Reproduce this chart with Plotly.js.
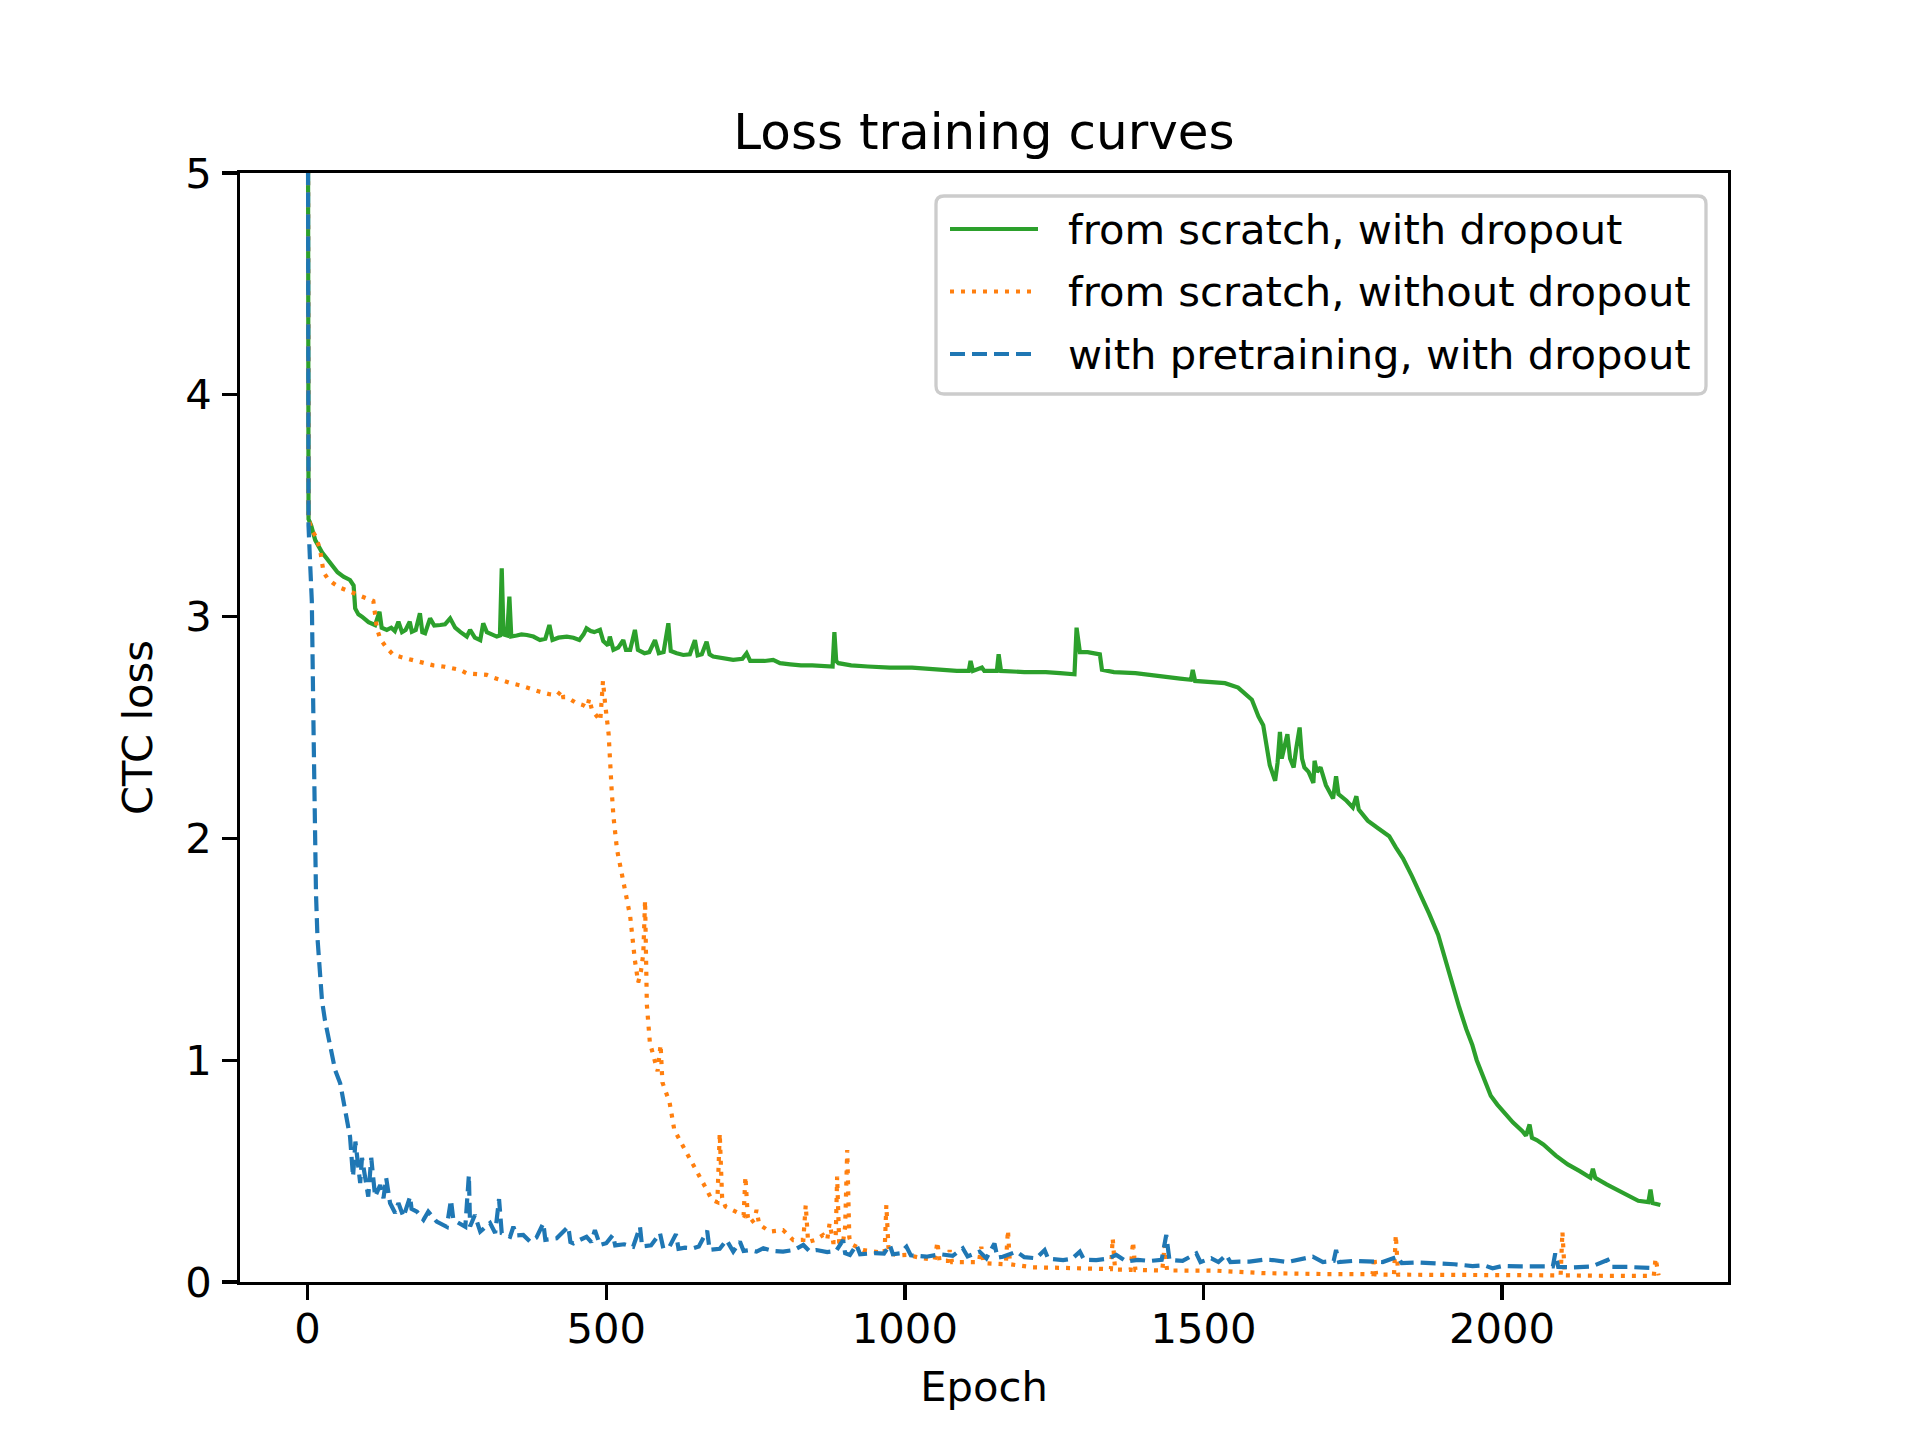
<!DOCTYPE html>
<html>
<head>
<meta charset="utf-8">
<script src="https://cdn.plot.ly/plotly-3.0.1.min.js"></script>
<style>
  body { margin: 0; background: #fff; }
</style>
</head>
<body>
<div id="chart" style="width:1920px;height:1440px;"></div>
<script>
// Series labels (legend order)
const seriesNames = [
  'from scratch, with dropout',
  'from scratch, without dropout',
  'with pretraining, with dropout'
]
const seriesColors = ['#2ca02c', '#ff7f0e', '#1f77b4']
const seriesDash = ['solid', '4px,7px', '15px,7px']

// from scratch, with dropout
const greenEpochs = [0, 1.5, 6, 12.7, 24, 37.8, 50, 60, 71, 77, 79.6, 85, 91, 102, 113, 120.3, 124, 132.6, 140, 146, 152, 158, 164, 171, 174.5, 181, 188, 192, 196.7, 205, 212, 222, 230, 238.6, 247, 256, 266.5, 272, 280, 289, 294, 300, 308, 316.7, 322, 325, 328, 334, 337.8, 341, 350, 358, 367, 378, 389, 398, 404.8, 410, 420, 434, 445, 455, 462, 467, 474, 480, 489.5, 495, 503, 506, 512, 520, 528.5, 533, 540, 548, 553, 564, 572, 581.6, 588, 596, 604, 608, 618, 629, 640, 648.5, 653, 660, 668, 673, 679, 695, 712.5, 728, 735, 741, 751, 765, 779.5, 791, 808, 826, 845, 863, 879, 882, 885, 889, 910, 938, 975, 1012, 1050, 1087, 1107, 1110, 1114, 1129, 1133, 1154, 1157, 1161, 1200, 1236, 1260, 1284, 1287.5, 1293, 1306, 1319, 1326.5, 1330, 1350, 1386, 1424, 1461, 1479, 1482, 1486, 1510, 1536, 1558, 1570, 1581, 1592, 1600, 1611, 1620, 1624, 1628, 1631, 1634, 1640.5, 1645, 1651, 1655, 1661, 1665, 1669, 1676, 1684, 1686, 1690, 1696, 1705, 1717, 1722, 1726, 1739.5, 1750, 1756, 1760, 1775, 1790, 1802, 1811, 1822, 1834, 1849, 1864, 1878, 1893, 1905, 1916.5, 1928, 1940, 1950, 1957.5, 1969, 1981, 1992, 2004, 2018, 2034, 2040, 2046, 2050, 2058, 2069, 2090, 2110, 2130, 2148, 2152, 2156, 2175, 2198.5, 2215, 2228, 2245, 2248.5, 2252, 2265]
const greenLoss = [6.5, 3.44, 3.41, 3.345, 3.29, 3.24, 3.2, 3.18, 3.165, 3.14, 3.037, 3.01, 3.0, 2.975, 2.962, 3.022, 2.95, 2.94, 2.95, 2.935, 2.977, 2.93, 2.94, 2.977, 2.932, 2.94, 3.015, 2.93, 2.925, 2.992, 2.96, 2.962, 2.965, 2.992, 2.95, 2.93, 2.91, 2.94, 2.905, 2.894, 2.97, 2.93, 2.92, 2.91, 2.915, 3.218, 2.92, 2.915, 3.09, 2.91, 2.915, 2.92, 2.917, 2.91, 2.894, 2.9, 2.962, 2.895, 2.905, 2.91, 2.905, 2.895, 2.92, 2.947, 2.935, 2.93, 2.94, 2.89, 2.87, 2.91, 2.85, 2.86, 2.894, 2.85, 2.85, 2.94, 2.85, 2.835, 2.84, 2.894, 2.835, 2.84, 2.97, 2.845, 2.835, 2.827, 2.83, 2.894, 2.825, 2.83, 2.887, 2.83, 2.82, 2.815, 2.805, 2.81, 2.835, 2.8, 2.8, 2.8, 2.805, 2.79, 2.785, 2.78, 2.78, 2.775, 2.775, 2.93, 2.8, 2.79, 2.78, 2.775, 2.77, 2.77, 2.76, 2.755, 2.755, 2.8, 2.755, 2.77, 2.755, 2.755, 2.83, 2.755, 2.75, 2.75, 2.745, 2.74, 2.95, 2.84, 2.84, 2.835, 2.83, 2.76, 2.75, 2.745, 2.73, 2.72, 2.715, 2.76, 2.71, 2.705, 2.7, 2.68, 2.65, 2.625, 2.55, 2.51, 2.33, 2.26, 2.34, 2.48, 2.36, 2.39, 2.47, 2.36, 2.32, 2.4, 2.5, 2.36, 2.32, 2.3, 2.25, 2.35, 2.3, 2.32, 2.24, 2.18, 2.28, 2.2, 2.17, 2.14, 2.19, 2.13, 2.08, 2.05, 2.03, 2.01, 1.96, 1.91, 1.83, 1.745, 1.66, 1.565, 1.45, 1.34, 1.24, 1.14, 1.07, 1.0, 0.92, 0.84, 0.8, 0.76, 0.72, 0.68, 0.66, 0.71, 0.65, 0.64, 0.62, 0.57, 0.53, 0.5, 0.47, 0.51, 0.47, 0.44, 0.405, 0.38, 0.366, 0.36, 0.417, 0.356, 0.347]

// from scratch, without dropout
const orangeEpochs = [0, 1.5, 7, 14, 21, 26.6, 34, 43, 55, 71, 88, 105, 110, 116, 121.5, 132, 143.7, 160, 177, 194, 210.6, 227, 244, 255, 266.5, 283, 300, 311, 322, 340, 355.7, 372, 389, 405, 418, 425.5, 428, 434, 450, 462, 468, 471.5, 476, 490, 494.5, 498, 504, 509, 512, 518, 526, 534.5, 540, 548, 553.5, 558, 562, 565, 568, 573, 580, 586, 591, 594, 606, 614, 626, 641, 655, 665.5, 677, 686, 690, 694, 699.5, 715, 730, 733, 737, 740.5, 748, 751.7, 756, 774, 796, 813, 830, 834, 838, 850, 863, 870, 874, 880, 884, 886.6, 890, 896, 900, 903.5, 907, 911, 930, 955, 966, 969, 973, 990, 1002.7, 1030.5, 1050, 1054.5, 1058, 1072, 1075, 1079, 1086, 1124, 1128, 1132, 1169, 1172.6, 1176, 1214.5, 1260, 1298, 1345, 1348, 1352, 1378, 1382, 1386, 1431, 1435, 1439, 1521, 1560, 1600, 1700, 1783, 1786, 1789, 1819, 1822, 1826, 1899, 2000, 2098, 2101, 2105, 2170, 2254, 2257, 2262]
const orangeLoss = [6.5, 3.44, 3.39, 3.36, 3.3, 3.2, 3.17, 3.15, 3.13, 3.112, 3.09, 3.075, 3.07, 2.947, 2.9, 2.86, 2.827, 2.815, 2.804, 2.79, 2.78, 2.775, 2.767, 2.76, 2.744, 2.74, 2.737, 2.725, 2.714, 2.7, 2.69, 2.675, 2.661, 2.65, 2.645, 2.668, 2.637, 2.637, 2.61, 2.6, 2.59, 2.63, 2.58, 2.53, 2.71, 2.61, 2.47, 2.22, 2.1, 1.95, 1.84, 1.71, 1.65, 1.45, 1.35, 1.4, 1.48, 1.72, 1.25, 1.08, 1.0, 0.95, 1.07, 0.9, 0.81, 0.685, 0.625, 0.55, 0.49, 0.43, 0.37, 0.36, 0.67, 0.38, 0.34, 0.32, 0.3, 0.475, 0.295, 0.265, 0.28, 0.325, 0.26, 0.227, 0.234, 0.189, 0.19, 0.347, 0.18, 0.19, 0.212, 0.19, 0.265, 0.18, 0.18, 0.475, 0.18, 0.17, 0.25, 0.595, 0.2, 0.17, 0.144, 0.135, 0.13, 0.347, 0.13, 0.12, 0.122, 0.107, 0.1, 0.182, 0.095, 0.095, 0.144, 0.09, 0.09, 0.09, 0.159, 0.085, 0.08, 0.234, 0.08, 0.066, 0.064, 0.062, 0.058, 0.197, 0.056, 0.055, 0.182, 0.054, 0.052, 0.167, 0.052, 0.051, 0.046, 0.04, 0.036, 0.035, 0.114, 0.034, 0.033, 0.212, 0.033, 0.032, 0.03, 0.03, 0.227, 0.03, 0.028, 0.028, 0.107, 0.03]

// with pretraining, with dropout
const blueEpochs = [0, 1.5, 4, 7, 10, 11.7, 14, 16.5, 20, 24, 29, 35, 40, 46, 54.5, 63, 71, 76, 80, 88, 91, 101.5, 106.5, 113, 121.5, 127, 131.5, 138, 146.5, 152, 160.5, 171.5, 174, 183, 194, 202, 216, 233, 240, 244, 255, 264, 270, 272, 280, 289, 305.5, 314, 320.5, 325, 339, 344.5, 350, 361, 372.5, 383, 394.7, 398, 417, 436.5, 440, 445, 456, 467, 475, 481, 489.5, 500, 511, 515, 530, 545, 556.5, 560, 575, 590, 595.5, 606, 616.7, 621, 632, 645.6, 655, 669, 673, 690, 701.5, 712.6, 723.8, 730, 740.5, 751.7, 763, 780, 796, 815, 830, 840, 852, 870, 885, 896.6, 900, 908, 919, 925, 950, 965, 974.7, 980, 991.5, 1002.7, 1010, 1036, 1060, 1080, 1097, 1105, 1125, 1136.5, 1150, 1155, 1164, 1187, 1200, 1220, 1234, 1240, 1265, 1280, 1293, 1300, 1320.5, 1340, 1354, 1371, 1390, 1410, 1430, 1437.7, 1443, 1465, 1488, 1495, 1513, 1525, 1538, 1545, 1560, 1577, 1600, 1616, 1640, 1660, 1683, 1700, 1718, 1722, 1727, 1750, 1783, 1800, 1825, 1832, 1860, 1895, 1920, 1950.6, 1970, 1984, 2000, 2030, 2061.7, 2085, 2089, 2094, 2118, 2150, 2176.5, 2182, 2210, 2235, 2257]
const blueLoss = [6.5, 3.41, 3.25, 3.07, 2.47, 2.02, 1.75, 1.55, 1.4, 1.27, 1.18, 1.106, 1.03, 0.956, 0.896, 0.76, 0.655, 0.475, 0.633, 0.446, 0.56, 0.385, 0.56, 0.385, 0.437, 0.378, 0.469, 0.356, 0.311, 0.356, 0.294, 0.385, 0.33, 0.317, 0.28, 0.317, 0.272, 0.249, 0.37, 0.28, 0.26, 0.249, 0.482, 0.25, 0.302, 0.227, 0.266, 0.221, 0.374, 0.22, 0.204, 0.249, 0.21, 0.212, 0.182, 0.2, 0.265, 0.19, 0.197, 0.249, 0.18, 0.174, 0.19, 0.204, 0.18, 0.234, 0.167, 0.175, 0.212, 0.165, 0.17, 0.159, 0.249, 0.16, 0.165, 0.22, 0.152, 0.16, 0.216, 0.15, 0.155, 0.152, 0.16, 0.231, 0.145, 0.15, 0.189, 0.137, 0.182, 0.14, 0.144, 0.137, 0.152, 0.14, 0.137, 0.145, 0.167, 0.14, 0.144, 0.135, 0.14, 0.189, 0.13, 0.122, 0.167, 0.125, 0.13, 0.128, 0.167, 0.125, 0.129, 0.159, 0.12, 0.114, 0.125, 0.118, 0.152, 0.115, 0.137, 0.107, 0.174, 0.11, 0.114, 0.137, 0.112, 0.107, 0.144, 0.105, 0.099, 0.105, 0.137, 0.1, 0.099, 0.105, 0.122, 0.092, 0.1, 0.095, 0.1, 0.212, 0.099, 0.095, 0.129, 0.09, 0.107, 0.09, 0.122, 0.09, 0.092, 0.092, 0.1, 0.099, 0.09, 0.1, 0.114, 0.09, 0.095, 0.144, 0.09, 0.095, 0.092, 0.09, 0.114, 0.085, 0.088, 0.084, 0.08, 0.072, 0.075, 0.062, 0.072, 0.07, 0.069, 0.07, 0.129, 0.068, 0.066, 0.07, 0.099, 0.068, 0.068, 0.064, 0.062]

// Axis ticks
const xTicks = [0, 500, 1000, 1500, 2000]
const yTicks = [0, 1, 2, 3, 4, 5]

const font = 'DejaVu Sans, sans-serif'
const lineW = 4.2

// plot area in pixels (matplotlib default subplot box)
const plotLeft = 240
const plotTop = 173
const plotW = 1488
const plotH = 1109

// pixel -> paper coordinates, used for the legend box only
function px2x(px) {
  return (px - plotLeft) / plotW
}
function py2y(py) {
  return 1 - (py - plotTop) / plotH
}

function makeTrace(x, y, i) {
  return {
    x: x,
    y: y,
    name: seriesNames[i],
    mode: 'lines',
    type: 'scatter',
    showlegend: false,
    line: { color: seriesColors[i], width: lineW, dash: seriesDash[i] }
  }
}

const traces = [
  makeTrace(greenEpochs, greenLoss, 0),
  makeTrace(orangeEpochs, orangeLoss, 1),
  makeTrace(blueEpochs, blueLoss, 2)
]

// Legend drawn like matplotlib's: rounded frame, long handles
function buildLegend() {
  const left = 936
  const right = 1706
  const top = 196
  const bottom = 394
  const r = 8
  const rx = r / plotW
  const ry = r / plotH
  const x0 = px2x(left)
  const x1 = px2x(right)
  const y0 = py2y(bottom)
  const y1 = py2y(top)
  const path = `M${x0 + rx},${y1} L${x1 - rx},${y1} Q${x1},${y1} ${x1},${y1 - ry} ` +
    `L${x1},${y0 + ry} Q${x1},${y0} ${x1 - rx},${y0} L${x0 + rx},${y0} ` +
    `Q${x0},${y0} ${x0},${y0 + ry} L${x0},${y1 - ry} Q${x0},${y1} ${x0 + rx},${y1} Z`

  const shapes = [{
    type: 'path',
    xref: 'paper',
    yref: 'paper',
    path: path,
    fillcolor: 'rgba(255,255,255,0.8)',
    line: { color: '#cccccc', width: 3.3 }
  }]
  const annotations = []
  const rows = [229, 291.5, 354]
  rows.forEach((rowY, i) => {
    shapes.push({
      type: 'line',
      xref: 'paper',
      yref: 'paper',
      x0: px2x(950),
      x1: px2x(1038),
      y0: py2y(rowY),
      y1: py2y(rowY),
      line: { color: seriesColors[i], width: lineW, dash: seriesDash[i] }
    })
    annotations.push({
      text: seriesNames[i],
      xref: 'paper',
      yref: 'paper',
      x: px2x(1066),
      y: py2y(rowY),
      xanchor: 'left',
      yanchor: 'middle',
      showarrow: false,
      font: { family: font, size: 41.7, color: '#000' }
    })
  })
  return { shapes, annotations }
}

// x limits with matplotlib-style 5% margins
const xMax = Math.max(...greenEpochs)
const pad = xMax * 0.05

const axisCommon = {
  showline: true,
  mirror: true,
  linecolor: '#000',
  linewidth: 3.3,
  ticks: 'outside',
  ticklen: 14.6,
  tickwidth: 3.3,
  tickcolor: '#000',
  showgrid: false,
  zeroline: false,
  tickfont: { family: font, size: 41.7, color: '#000' }
}

const legend = buildLegend()

const layout = {
  width: 1920,
  height: 1440,
  margin: { l: plotLeft, r: 1920 - plotLeft - plotW, t: plotTop, b: 1440 - plotTop - plotH },
  paper_bgcolor: '#fff',
  plot_bgcolor: '#fff',
  showlegend: false,
  title: {
    text: 'Loss training curves',
    font: { family: font, size: 50, color: '#000' },
    x: 0.5125,
    xanchor: 'center',
    y: 1 - 131 / 1440,
    yanchor: 'middle'
  },
  xaxis: Object.assign({}, axisCommon, {
    range: [-pad, xMax + pad],
    tickvals: xTicks,
    ticktext: xTicks.map(String),
    ticklabelstandoff: -7,
    title: { text: 'Epoch', font: { family: font, size: 41.7, color: '#000' }, standoff: 21 }
  }),
  yaxis: Object.assign({}, axisCommon, {
    range: [0, 5],
    tickvals: yTicks,
    ticktext: yTicks.map(String),
    ticklabelstandoff: 2,
    title: { text: 'CTC loss', font: { family: font, size: 41.7, color: '#000' }, standoff: 20 }
  }),
  shapes: legend.shapes,
  annotations: legend.annotations
}

Plotly.newPlot('chart', traces, layout, { staticPlot: true })
</script>
</body>
</html>
